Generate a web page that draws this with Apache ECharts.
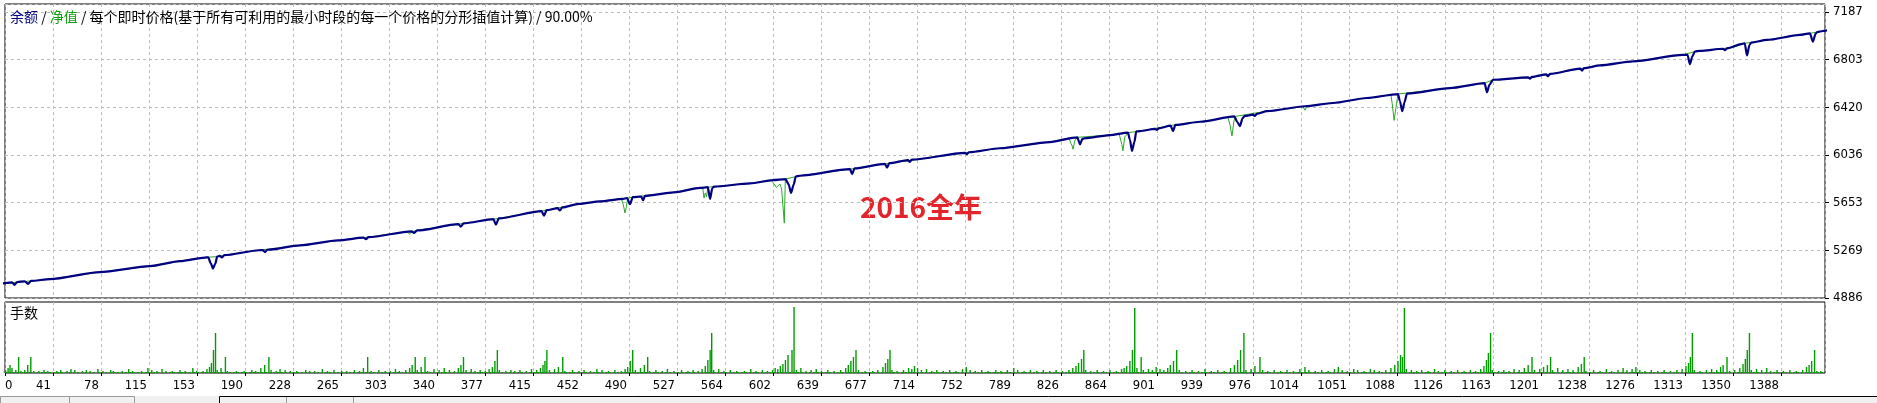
<!DOCTYPE html>
<html><head><meta charset="utf-8">
<script src="https://cdn.jsdelivr.net/npm/echarts@6/dist/echarts.min.js"></script>
<style>html,body{margin:0;padding:0;background:#fff}#c{width:1877px;height:403px}</style>
</head><body><div id="c"></div>
<script>
// ---- data ----
const xTickLabels = ['0','41','78','115','153','190','228','265','303','340','377','415','452','490','527','564','602','639','677','714','752','789','826','864','901','939','976','1014','1051','1088','1126','1163','1201','1238','1276','1313','1350','1388'];
const yTickLabels = ['4886','5269','5653','6036','6420','6803','7187'];

// balance (余额): [trade #, value]
const balance = [[0,5000],[5,5008],[9,5012],[11,4992],[13,5014],[19,5020],[21.5,5000],[24,5024],[38.7,5038],[77.6,5094],[116.6,5142],[140,5182],[159.5,5211],[162,5213],[164,5165],[165.7,5123],[167.5,5160],[169,5218],[171,5224],[172.7,5212],[174.5,5230],[201.6,5270],[204.5,5271],[206.3,5254],[208,5274],[233.5,5309],[263.2,5349],[283,5371],[285,5360],[287,5375],[320.5,5422],[322.4,5410],[324.8,5429],[357,5480],[359,5460],[361,5486],[384.3,5520],[386.3,5476],[388.5,5526],[421.8,5585],[423.8,5548],[425.8,5592],[434.5,5608],[436.2,5590],[438,5614],[451,5643],[467.4,5663],[485.4,5683],[488.5,5690],[490.8,5640],[493,5697],[499.5,5702],[501,5672],[502.5,5707],[525.1,5735],[545.4,5771],[551.5,5777],[553.2,5683],[555,5770],[556.5,5782],[584.4,5807],[602.3,5834],[612,5842],[614.5,5800],[616.3,5731],[618.5,5800],[620,5862],[623.3,5869],[662.3,5922],[664,5882],[665.8,5928],[689.5,5965],[691.2,5935],[693,5970],[707.5,5995],[709,5981],[710.5,5999],[752,6053],[753.5,6043],[755,6058],[779.2,6090],[818.2,6140],[839.5,6178],[841.6,6122],[843.5,6165],[845,6170],[865,6196],[879,6215],[880.5,6160],[882.1,6069],[884,6140],[885.5,6225],[888.4,6228],[900,6246],[901.6,6238],[903,6250],[912.3,6272],[914.1,6228],[916,6278],[935.2,6303],[962,6346],[964.3,6300],[966.3,6268],[968.3,6330],[970,6350],[976.5,6360],[978,6350],[979.5,6366],[987.4,6388],[1017,6428],[1038.8,6454],[1065.3,6494],[1089.5,6526],[1091,6470],[1092.8,6388],[1094.6,6460],[1096.5,6530],[1130,6574],[1157,6614],[1158.9,6540],[1160.8,6600],[1163.6,6641],[1191,6660],[1192.4,6650],[1194,6664],[1205,6684],[1206.4,6670],[1208,6688],[1231.5,6730],[1233,6715],[1234.5,6734],[1247,6756],[1272.7,6788],[1311.6,6841],[1315.2,6842],[1317.1,6766],[1319,6830],[1321,6868],[1324.9,6873],[1343,6890],[1344.4,6878],[1346,6893],[1358,6930],[1359.8,6934],[1361.6,6836],[1363.5,6920],[1365,6940],[1377.1,6961],[1402.8,7001],[1410.6,7014],[1413,6947],[1415,7010],[1416.5,7025],[1420.7,7033],[1424,7038]];

// equity (净值): [trade #, value]
const equity = [[0,5000],[38.7,5038],[77.6,5094],[116.6,5142],[140,5182],[159.5,5211],[162,5214],[170,5220],[174.5,5230],[201.6,5270],[233.5,5309],[263.2,5349],[285,5373],[317,5418],[319,5400],[321,5420],[324.8,5429],[359,5483],[386.3,5523],[423.8,5589],[451,5643],[467.4,5663],[484,5685],[485.5,5640],[486.9,5570],[488,5620],[489,5690],[493,5697],[525.1,5735],[545.4,5771],[547.5,5774],[548.5,5690],[549.5,5730],[550.5,5700],[551.5,5777],[584.4,5807],[601,5833],[602.3,5815],[604.9,5775],[607.7,5802],[609,5763],[611.1,5488],[611.9,5842],[620,5862],[623.3,5869],[662.3,5922],[691.2,5967],[753.5,6055],[779.2,6090],[818.2,6140],[833,6172],[834.5,6130],[835.5,6110],[836.2,6082],[837.5,6150],[839.5,6178],[865,6196],[872,6212],[873.5,6150],[874.3,6120],[875.1,6069],[876.5,6180],[879,6215],[888.4,6228],[914.1,6276],[935.2,6303],[957,6338],[958.5,6280],[960.1,6188],[961.5,6300],[962.5,6346],[987.4,6388],[1015.5,6424],[1017,6396],[1018.5,6430],[1038.8,6454],[1065.3,6494],[1084,6520],[1085,6450],[1086.5,6314],[1088,6420],[1089.5,6526],[1130,6574],[1157,6614],[1163.6,6641],[1192.4,6660],[1206.4,6684],[1233,6732],[1247,6756],[1272.7,6788],[1311.6,6841],[1321,6868],[1350.6,6900],[1359.8,6934],[1377.1,6961],[1402.8,7001],[1410.6,7014],[1416.5,7025],[1424,7038]];

// lots (手数): [trade #, lots]
const lots = [[2,0.02],[4,0.03],[6,0.05],[7.5,0.08],[9,0.05],[12,0.03],[14.2,0.16],[16,0.02],[19,0.03],[21.3,0.08],[23.7,0.16],[26,0.02],[30,0.02],[34,0.03],[37,0.02],[44,0.02],[47,0.03],[52,0.02],[55,0.04],[58,0.03],[64,0.02],[67,0.03],[70,0.02],[76,0.04],[80,0.02],[86,0.03],[88,0.02],[95,0.02],[100,0.04],[103,0.02],[110,0.02],[115,0.05],[118,0.03],[122,0.02],[126,0.04],[129,0.02],[134,0.02],[140,0.03],[144,0.02],[150,0.05],[153,0.02],[158,0.02],[161,0.04],[163,0.06],[164.5,0.1],[166.1,0.23],[167.7,0.40],[169,0.03],[172,0.05],[175.4,0.16],[177,0.02],[184,0.02],[190,0.02],[196,0.03],[199,0.02],[203,0.05],[206,0.08],[209.3,0.16],[211,0.03],[215,0.02],[218,0.04],[222,0.03],[226,0.02],[231,0.02],[238,0.03],[241,0.02],[245,0.02],[251,0.04],[255,0.02],[260,0.03],[266,0.02],[270,0.02],[276,0.03],[280,0.02],[283,0.05],[286.3,0.16],[289,0.02],[295,0.03],[300,0.02],[304,0.02],[308,0.04],[311,0.02],[316,0.03],[319,0.05],[321,0.08],[323.4,0.16],[325,0.03],[328,0.06],[331,0.16],[333,0.02],[338,0.04],[342,0.03],[346,0.05],[350,0.03],[354,0.02],[357,0.05],[359,0.08],[361,0.16],[363,0.03],[367,0.04],[370,0.02],[374,0.03],[378,0.02],[381,0.04],[383.5,0.06],[385.5,0.12],[387.4,0.23],[389,0.03],[394,0.02],[398,0.03],[401,0.02],[405,0.03],[410,0.02],[414,0.04],[418,0.03],[421,0.05],[423,0.08],[424.5,0.12],[426,0.23],[428,0.03],[432,0.04],[435,0.06],[438.4,0.16],[440,0.02],[446,0.03],[451,0.02],[455,0.03],[460,0.02],[465,0.04],[469,0.03],[474,0.02],[479,0.03],[484,0.02],[487,0.04],[489,0.06],[491,0.12],[492.9,0.23],[495,0.03],[499,0.05],[502,0.08],[504.6,0.16],[506,0.02],[511,0.03],[516,0.02],[520,0.04],[525,0.02],[531,0.03],[536,0.02],[540,0.03],[544,0.02],[547,0.04],[549.5,0.07],[551.5,0.13],[553.3,0.23],[554.5,0.40],[556,0.03],[560,0.04],[564,0.02],[569,0.03],[574,0.02],[580,0.02],[585,0.04],[589,0.02],[594,0.03],[598,0.02],[602,0.03],[604,0.05],[606,0.04],[608,0.07],[610,0.09],[612,0.13],[614,0.18],[617.1,0.23],[618.7,0.66],[620.5,0.03],[624,0.05],[628,0.02],[632,0.03],[636,0.04],[640,0.02],[645,0.03],[650,0.02],[655,0.03],[659,0.05],[661,0.08],[663,0.12],[665,0.16],[667,0.23],[669,0.03],[674,0.02],[680,0.02],[684,0.03],[688,0.06],[690,0.1],[691.8,0.14],[693.5,0.23],[695,0.03],[699,0.02],[704,0.03],[708,0.05],[710.5,0.04],[712.6,0.07],[715,0.05],[718,0.03],[722,0.04],[726,0.02],[730,0.03],[735,0.02],[740,0.03],[745,0.02],[750,0.04],[753,0.06],[756,0.03],[760,0.02],[765,0.03],[770,0.02],[776,0.03],[780,0.02],[785,0.03],[790,0.05],[793,0.03],[798,0.02],[803,0.03],[808,0.02],[813,0.03],[818,0.02],[823,0.03],[828,0.02],[833,0.03],[836,0.05],[838.5,0.07],[840.5,0.1],[842.8,0.14],[844.6,0.23],[846,0.03],[850,0.02],[855,0.03],[860,0.02],[865,0.03],[870,0.02],[874,0.04],[876,0.05],[878,0.07],[880.5,0.12],[882.5,0.23],[884.3,0.65],[886,0.05],[889.3,0.16],[891,0.03],[895,0.04],[898,0.03],[901,0.06],[904,0.04],[907,0.03],[910,0.05],[912,0.08],[914.5,0.12],[917,0.23],[919,0.03],[924,0.02],[929,0.03],[934,0.02],[939,0.04],[944,0.02],[949,0.03],[954,0.02],[959,0.05],[962,0.08],[964.5,0.13],[966.8,0.23],[969.4,0.40],[971,0.03],[975,0.04],[978,0.07],[981.9,0.16],[984,0.03],[988,0.02],[993,0.03],[998,0.02],[1003,0.03],[1008,0.02],[1013,0.04],[1017,0.06],[1020,0.03],[1025,0.02],[1030,0.03],[1035,0.02],[1040,0.04],[1043,0.06],[1046,0.03],[1050,0.02],[1055,0.04],[1058,0.03],[1063,0.02],[1068,0.04],[1071,0.03],[1075,0.02],[1080,0.03],[1084,0.05],[1087,0.08],[1089.5,0.12],[1091.5,0.18],[1093,0.16],[1094.5,0.65],[1096,0.04],[1100,0.03],[1104,0.02],[1108,0.03],[1113,0.02],[1118,0.04],[1121,0.02],[1126,0.03],[1131,0.02],[1136,0.03],[1141,0.02],[1146,0.03],[1150,0.02],[1154,0.04],[1156.5,0.07],[1158.5,0.13],[1160,0.2],[1161.7,0.40],[1163,0.03],[1168,0.02],[1172,0.03],[1176,0.02],[1180,0.04],[1184,0.03],[1188,0.05],[1191,0.08],[1194,0.16],[1196,0.03],[1200,0.04],[1203,0.06],[1206,0.08],[1208.5,0.16],[1210,0.03],[1214,0.05],[1218,0.03],[1222,0.04],[1226,0.03],[1230,0.06],[1232.5,0.09],[1234.7,0.16],[1236,0.02],[1242,0.03],[1247,0.02],[1252,0.04],[1256,0.02],[1261,0.03],[1265,0.05],[1268,0.03],[1272,0.04],[1275,0.06],[1278,0.03],[1282,0.02],[1287,0.03],[1292,0.02],[1297,0.03],[1302,0.02],[1307,0.03],[1311,0.04],[1314,0.07],[1316,0.1],[1317.5,0.16],[1319,0.40],[1320.5,0.03],[1325,0.02],[1330,0.03],[1334,0.04],[1338,0.03],[1341,0.06],[1343,0.08],[1346,0.16],[1348,0.02],[1352,0.03],[1356,0.05],[1358.5,0.09],[1360.3,0.14],[1361.8,0.23],[1363.5,0.40],[1365,0.03],[1369,0.04],[1373,0.03],[1377,0.05],[1380,0.02],[1385,0.03],[1390,0.02],[1395,0.03],[1400,0.02],[1405,0.03],[1408,0.06],[1410,0.08],[1412,0.12],[1414.3,0.23],[1416,0.02],[1419,0.02]];

const titleText = '{a|余额} / {b|净值} / 每个即时价格(基于所有可利用的最小时段的每一个价格的分形插值计算) / 90.00%';
const lotsLabel = '手数';
const noteText = '2016全年';

// ---- axis setup ----
const X_MIN = 3.58, X_STEP = 37.42, X_MAX = 1422.4;
const Y_MIN = 4886, Y_STEP = 383.5, Y_MAX = 7250;
const LOT_MAX = 0.71;

const NUM_FONT = "'DejaVu Sans Condensed','DejaVu Sans',sans-serif";
const CJK_FONT = "'Noto Sans CJK SC','Noto Sans',sans-serif";
const gridLine = {show: true, lineStyle: {color: '#bcbcbc', type: [3, 3], width: 1}};

const chart = echarts.init(document.getElementById('c'), null, {renderer: 'canvas'});
chart.setOption({
  animation: false,
  backgroundColor: '#ffffff',
  title: {
    text: titleText, left: 10, top: 9, padding: 0,
    textStyle: {fontFamily: CJK_FONT, fontSize: 14, fontWeight: 'normal', color: '#000', lineHeight: 16,
      rich: {a: {color: '#000080', fontFamily: CJK_FONT, fontSize: 14, lineHeight: 16},
             b: {color: '#10a010', fontFamily: CJK_FONT, fontSize: 14, lineHeight: 16}}}
  },
  grid: [
    {left: 5, right: 52, top: 4, height: 294, show: true, borderColor: '#000', borderWidth: 1, backgroundColor: '#fff', containLabel: false, outerBoundsMode: 'none'},
    {left: 5, right: 52, top: 302, height: 71, show: true, borderColor: '#000', borderWidth: 1, backgroundColor: '#fff', containLabel: false, outerBoundsMode: 'none'}
  ],
  xAxis: [
    {type: 'value', gridIndex: 0, min: X_MIN, max: X_MAX, interval: X_STEP,
     axisLine: {show: false}, axisTick: {show: false}, axisLabel: {show: false}, splitLine: gridLine},
    {type: 'value', gridIndex: 1, min: X_MIN, max: X_MAX, interval: X_STEP,
     axisLine: {show: false}, axisTick: {show: true, length: 3, lineStyle: {color: '#000'}},
     axisLabel: {show: true, margin: 6, color: '#000', fontFamily: NUM_FONT, fontSize: 13,
       align: 'right', alignMinLabel: 'left', padding: [0, 2, 0, 0], showMaxLabel: false,
       formatter: (v, i) => (xTickLabels[i] !== undefined ? xTickLabels[i] : '')},
     splitLine: gridLine}
  ],
  yAxis: [
    {type: 'value', gridIndex: 0, position: 'right', min: Y_MIN, max: Y_MAX, interval: Y_STEP,
     axisLine: {show: false}, axisTick: {show: true, length: 4, lineStyle: {color: '#000'}},
     axisLabel: {show: true, margin: 8, color: '#000', fontFamily: NUM_FONT, fontSize: 13, showMaxLabel: false,
       formatter: (v, i) => (yTickLabels[i] !== undefined ? yTickLabels[i] : '')},
     splitLine: gridLine},
    {type: 'value', gridIndex: 1, min: 0, max: LOT_MAX, show: false, splitLine: {show: false}}
  ],
  series: [
    {name: '净值', type: 'line', xAxisIndex: 0, yAxisIndex: 0, data: equity, showSymbol: false, symbol: 'none',
     lineStyle: {color: '#2aa82a', width: 1}, z: 2, silent: true},
    {name: '余额', type: 'line', xAxisIndex: 0, yAxisIndex: 0, data: balance, showSymbol: false, symbol: 'none',
     smooth: 0.25, smoothMonotone: 'x',
     lineStyle: {color: '#000080', width: 2.2}, z: 3, silent: true},
    {name: '手数', type: 'bar', xAxisIndex: 1, yAxisIndex: 1, data: lots, barWidth: 1.4,
     itemStyle: {color: '#009c00'}, silent: true,
     markLine: {silent: true, symbol: 'none', label: {show: false},
       lineStyle: {color: '#00a000', type: [2, 2], width: 1}, data: [{yAxis: 0.012}]}}
  ],
  graphic: [
    {type: 'text', left: 10, top: 306, style: {text: lotsLabel, font: '14px ' + CJK_FONT, fill: '#000'}},
    {type: 'text', x: 921, y: 207, style: {text: noteText, font: 'bold 28px ' + CJK_FONT, fill: '#e3242b', align: 'center', verticalAlign: 'middle'}},
    {type: 'rect', shape: {x: 0, y: 396, width: 1877, height: 7}, style: {fill: '#f0f0f0'}},
    {type: 'polyline', shape: {points: [[0.5, 403], [0.5, 396.5], [134.5, 396.5], [134.5, 403]]}, style: {stroke: '#9a9a9a', fill: null, lineWidth: 1}},
    {type: 'line', shape: {x1: 69.5, y1: 397, x2: 69.5, y2: 403}, style: {stroke: '#9a9a9a', lineWidth: 1}},
    {type: 'polyline', shape: {points: [[219.5, 403], [219.5, 396.5], [1877, 396.5]]}, style: {stroke: '#000', fill: null, lineWidth: 1}},
    {type: 'line', shape: {x1: 286.5, y1: 397, x2: 286.5, y2: 403}, style: {stroke: '#9a9a9a', lineWidth: 1}},
    {type: 'line', shape: {x1: 353.5, y1: 397, x2: 353.5, y2: 403}, style: {stroke: '#9a9a9a', lineWidth: 1}}
  ]
});
</script>
</body></html>
